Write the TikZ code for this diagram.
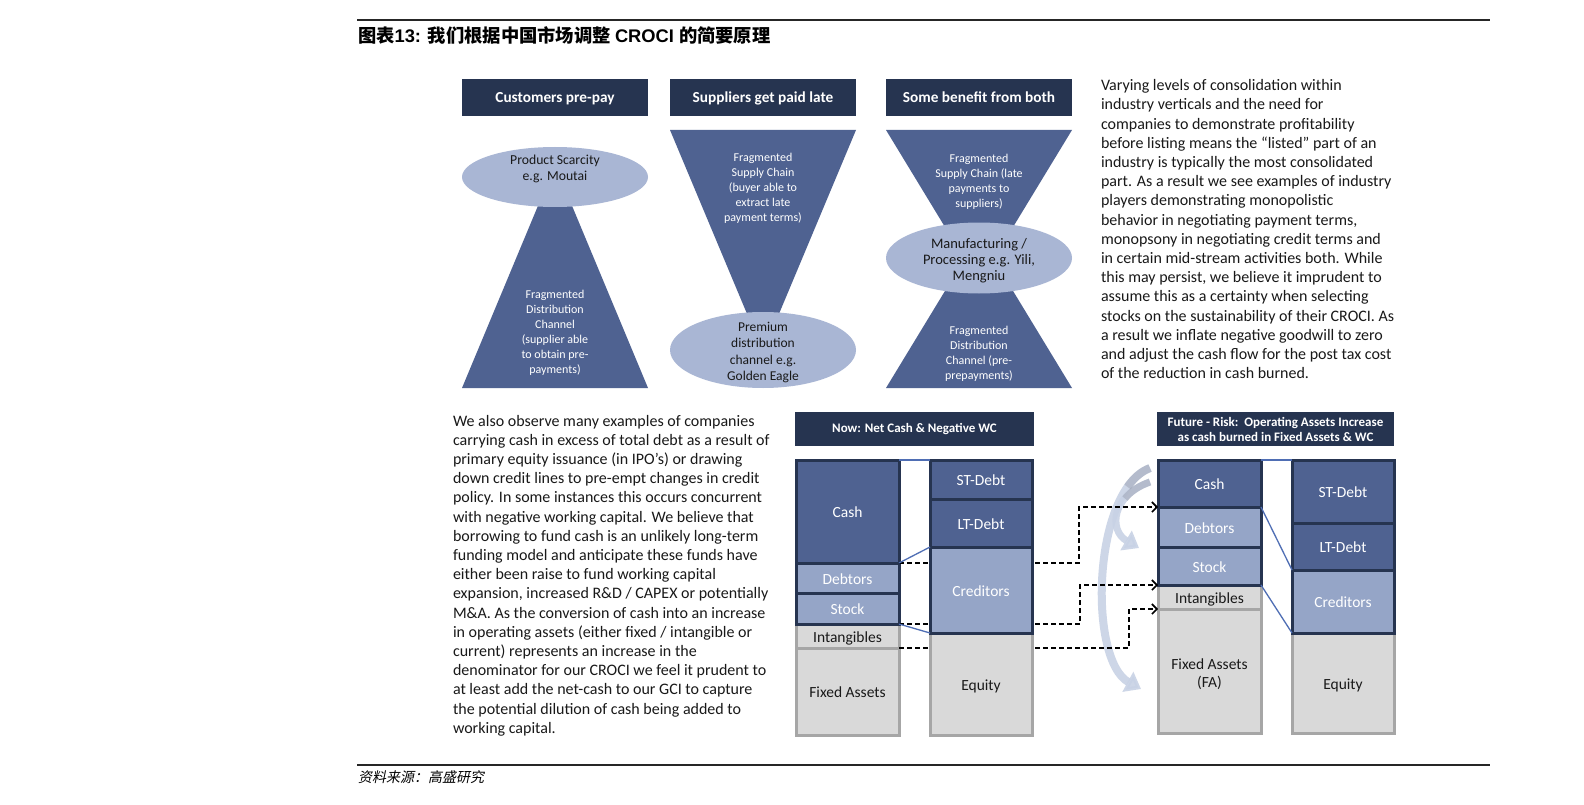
\documentclass[tikz,border=0pt]{standalone}
\usepackage{fontspec}
\setmainfont{Carlito}
\newfontfamily\cjk{Noto Sans CJK SC}
\newfontfamily\cjkit{Noto Sans CJK SC}[FakeSlant=0.2]
\newfontfamily\arial{Liberation Sans}
\usepackage{tikz}
\usetikzlibrary{shapes.geometric,arrows.meta,positioning,calc}
\definecolor{hdrNavy}{RGB}{38,52,80}
\definecolor{triBlue}{RGB}{79,98,145}
\definecolor{ellBlue}{RGB}{169,182,212}
\definecolor{boxDark}{RGB}{79,98,145}
\definecolor{boxLight}{RGB}{149,165,199}
\definecolor{boxGrey}{RGB}{217,217,217}
\definecolor{rimGrey}{RGB}{166,166,166}
\definecolor{linkBlue}{RGB}{79,110,180}
\definecolor{arcBlue}{RGB}{200,210,229}
\definecolor{arcGrey}{RGB}{150,156,172}
\definecolor{inkText}{RGB}{25,25,25}

\begin{document}
\begin{tikzpicture}[x=1pt, y=-1pt,
  every node/.style={inner sep=0pt, outer sep=0pt},
  panelhdr/.style={fill=hdrNavy, text=white, minimum width=186pt, minimum height=37pt,
    text height=10.5pt, text depth=1pt, font=\fontsize{15.3}{17}\selectfont\bfseries},
  smallhdr/.style={fill=hdrNavy, text=white, align=center, minimum height=34pt,
    font=\fontsize{13}{15}\selectfont\bfseries},
  tritext/.style={text=white, align=center, font=\fontsize{12}{15}\selectfont},
  ellnode/.style={ellipse, fill=ellBlue, minimum width=186pt},
  elltext/.style={text=inkText, align=center},
  bodytext/.style={text=inkText, align=left, anchor=north west,
    font=\fontsize{16}{19.2}\selectfont},
  cell/.style={line width=3pt, text height=13pt, text depth=0.5pt, align=center,
    font=\fontsize{15.5}{18}\selectfont},
  darkcell/.style={cell, draw=hdrNavy, fill=boxDark, text=white},
  lightcell/.style={cell, draw=hdrNavy, fill=boxLight, text=white},
  greycell/.style={cell, draw=rimGrey, fill=boxGrey, text=inkText},
  linkline/.style={draw=linkBlue, line width=1.3pt},
  dashlink/.style={draw=black, line width=1.6pt, dash pattern=on 5pt off 3pt,
    -{Straight Barb[length=5pt, width=10pt, line width=1.6pt]}},
  arcarrow/.style={draw=arcBlue, opacity=0.9, line width=8pt,
    -{Triangle[length=15pt, width=22pt]}},
  arctint/.style={draw=arcGrey, opacity=0.45, line width=8pt}
]
\useasboundingbox (0,0) rectangle (1584,805);
\fill[white] (0,0) rectangle (1584,805);

% Title and rules
\draw[line width=1.3pt, black!85] (357,20) -- (1490,20);
\draw[line width=1.3pt, black!85] (357,765) -- (1490,765);
\node[anchor=west] (title) at (358,35.5) {\fontsize{18.3}{21}\selectfont
  {\cjk\bfseries 图表}{\arial\bfseries 13: }{\cjk\bfseries 我们根据中国市场调整 }{\arial\bfseries CROCI }{\cjk\bfseries 的简要原理}};
\node[anchor=west] (source) at (358,777) {\fontsize{14}{16}\selectfont\cjkit 资料来源：高盛研究};

% Top panels: headers
\node[panelhdr] (prepay) at (555,97.5) {Customers pre-pay};
\node[panelhdr] (paidlate) at (763,97.5) {Suppliers get paid late};
\node[panelhdr] (both) at (979,97.5) {Some benefit from both};

% Panel 1
\fill[triBlue] (555,165) -- (648,388) -- (462,388) -- cycle;
\node[ellnode, minimum height=60pt] (scarcity) at (555,177) {};
\node[elltext, font=\fontsize{13.7}{16}\selectfont] (scarcitytxt) at (555,168.5) {Product Scarcity\\e.g. Moutai};
\node[tritext] (distchan) at (555,333) {Fragmented\\Distribution\\Channel\\(supplier able\\to obtain pre-\\payments)};

% Panel 2
\fill[triBlue] (670,130) -- (856,130) -- (763,352) -- cycle;
\node[tritext] (supplychain) at (763,188) {Fragmented\\Supply Chain\\(buyer able to\\extract late\\payment terms)};
\node[ellnode, minimum height=76pt] (premium) at (763,350) {};
\node[elltext, font=\fontsize{13.5}{16.3}\selectfont] (premiumtxt) at (763,352.5)
  {Premium\\distribution\\channel e.g.\\Golden Eagle};

% Panel 3
\fill[triBlue] (886,130) -- (1072,130) -- (979,283) -- cycle;
\fill[triBlue] (979,235) -- (1072,388) -- (886,388) -- cycle;
\node[tritext] (latepay) at (979,182) {Fragmented\\Supply Chain (late\\payments to\\suppliers)};
\node[ellnode, minimum height=71pt] (processing) at (979,258) {};
\node[elltext, font=\fontsize{14.5}{16}\selectfont] (processingtxt) at (979,260.5)
  {Manufacturing /\\Processing e.g. Yili,\\Mengniu};
\node[tritext] (prepaydist) at (979,354) {Fragmented\\Distribution\\Channel (pre-\\prepayments)};

% Text blocks
\node[bodytext] (rightnote) at (1101,79.5) {%
Varying levels of consolidation within\\
industry verticals and the need for\\
companies to demonstrate profitability\\
before listing means the “listed” part of an\\
industry is typically the most consolidated\\
part. As a result we see examples of industry\\
players demonstrating monopolistic\\
behavior in negotiating payment terms,\\
monopsony in negotiating credit terms and\\
in certain mid-stream activities both. While\\
this may persist, we believe it imprudent to\\
assume this as a certainty when selecting\\
stocks on the sustainability of their CROCI. As\\
a result we inflate negative goodwill to zero\\
and adjust the cash flow for the post tax cost\\
of the reduction in cash burned.};
\node[bodytext] (leftnote) at (453,415) {%
We also observe many examples of companies\\
carrying cash in excess of total debt as a result of\\
primary equity issuance (in IPO’s) or drawing\\
down credit lines to pre-empt changes in credit\\
policy. In some instances this occurs concurrent\\
with negative working capital. We believe that\\
borrowing to fund cash is an unlikely long-term\\
funding model and anticipate these funds have\\
either been raise to fund working capital\\
expansion, increased R\&D / CAPEX or potentially\\
M\&A. As the conversion of cash into an increase\\
in operating assets (either fixed / intangible or\\
current) represents an increase in the\\
denominator for our CROCI we feel it prudent to\\
at least add the net-cash to our GCI to capture\\
the potential dilution of cash being added to\\
working capital.};

% Balance sheets: headers
\node[smallhdr, minimum width=239pt] (nowhdr) at (914.5,429) {Now: Net Cash \& Negative WC};
\node[smallhdr, minimum width=237pt] (futhdr) at (1275.5,429) {Future - Risk:\ \ Operating Assets Increase\\as cash burned in Fixed Assets \& WC};

% Now: assets
\node[greycell, minimum width=103pt, minimum height=24pt] (intanA) at (847.5,636) {Intangibles};
\node[greycell, minimum width=103pt, minimum height=87pt] (fixedA) at (847.5,691.5) {Fixed Assets};
\node[darkcell, minimum width=103pt, minimum height=103pt] (cashA) at (847.5,511.5) {Cash};
\node[lightcell, minimum width=103pt, minimum height=30pt] (debtA) at (847.5,578) {Debtors};
\node[lightcell, minimum width=103pt, minimum height=31pt] (stockA) at (847.5,608.5) {Stock};

% Future: assets and liabilities
\node[greycell, minimum width=103pt, minimum height=24pt] (intanB) at (1209.5,597) {Intangibles};
\node[greycell, minimum width=103pt, minimum height=124pt, text height=34pt] (fixedB) at (1209.5,671) {Fixed Assets\\(FA)};
\node[darkcell, minimum width=103pt, minimum height=47pt] (cashB) at (1209.5,483.5) {Cash};
\node[lightcell, minimum width=103pt, minimum height=40pt] (debtB) at (1209.5,527) {Debtors};
\node[lightcell, minimum width=103pt, minimum height=38pt] (stockB) at (1209.5,566) {Stock};
\node[greycell, minimum width=102pt, minimum height=100pt] (equityB) at (1343,683) {Equity};
\node[darkcell, minimum width=102pt, minimum height=63pt] (stdebtB) at (1343,491.5) {ST-Debt};
\node[darkcell, minimum width=102pt, minimum height=47pt] (ltdebtB) at (1343,546.5) {LT-Debt};
\node[lightcell, minimum width=102pt, minimum height=63pt] (creditB) at (1343,601.5) {Creditors};

% Cash burn arcs
\draw[arcarrow] (1150,468) .. controls (1092,490) and (1088,660) .. (1141,689);
\draw[arcarrow, line width=7pt] (1150,482) .. controls (1112,495) and (1108,530) .. (1139,548);
\draw[arctint] (1150,468) .. controls (1141.3,471.3) and (1133.8,477.9) .. (1127.5,486.9);
\draw[arctint, line width=7pt] (1150,482) .. controls (1138.6,485.9) and (1130.3,491.8) .. (1125,498.6);

% Dashed moves
\draw[dashlink] (cashA.south east) -- ++(180,0) |- (cashB.south west);
\draw[dashlink] (stockA.south east) -- ++(181,0) |- (stockB.south west);
\draw[dashlink] (intanA.south east) -- ++(230,0) |- (intanB.south west);

% Now: liabilities
\node[greycell, minimum width=102pt, minimum height=102pt] (equityA) at (981,684) {Equity};
\node[darkcell, minimum width=102pt, minimum height=39pt] (stdebtA) at (981,479.5) {ST-Debt};
\node[darkcell, minimum width=102pt, minimum height=48pt] (ltdebtA) at (981,523) {LT-Debt};
\node[lightcell, minimum width=102pt, minimum height=86pt] (creditA) at (981,590) {Creditors};

% Links between sides
\draw[linkline] (cashA.north east) -- (stdebtA.north west);
\draw[linkline] (cashA.south east) -- (creditA.north west);
\draw[linkline] (stockA.south east) -- (creditA.south west);
\draw[linkline] (cashB.north east) -- (stdebtB.north west);
\draw[linkline] (cashB.south east) -- (creditB.north west);
\draw[linkline] (stockB.south east) -- (creditB.south west);
\end{tikzpicture}
\end{document}
